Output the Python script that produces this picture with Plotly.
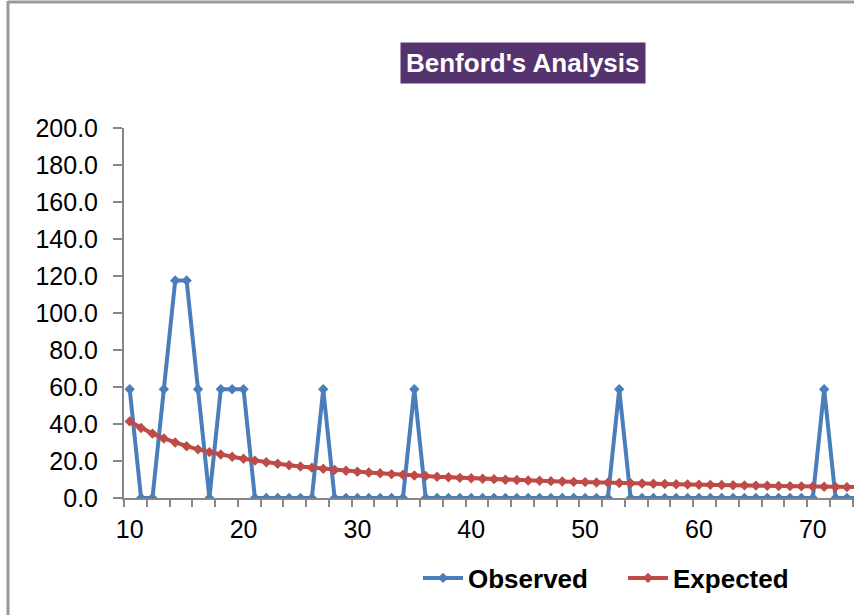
import plotly.graph_objects as go

digits = list(range(10, 76))
observed = [58.8, 0, 0, 58.8, 117.6, 117.6, 58.8, 0, 58.8, 58.8, 58.8,   # 10-20
            0, 0, 0, 0, 0, 0, 58.8, 0, 0, 0,                              # 21-30
            0, 0, 0, 0, 58.8, 0, 0, 0, 0, 0,                              # 31-40
            0, 0, 0, 0, 0, 0, 0, 0, 0, 0,                                 # 41-50
            0, 0, 58.8, 0, 0, 0, 0, 0, 0, 0,                              # 51-60
            0, 0, 0, 0, 0, 0, 0, 0, 0, 0,                                 # 61-70
            58.8, 0, 0, 0, 0]                                             # 71-75
expected = [41.4, 37.8, 34.8, 32.2, 30.0, 28.0, 26.3, 24.8, 23.5, 22.3, 21.2,  # 10-20
            20.2, 19.3, 18.5, 17.7, 17.0, 16.4, 15.8, 15.2, 14.7, 14.2,        # 21-30
            13.8, 13.4, 12.9, 12.6, 12.2, 11.9, 11.5, 11.2, 10.9, 10.7,        # 31-40
            10.4, 10.2, 9.9, 9.7, 9.5, 9.3, 9.1, 8.9, 8.7, 8.6,                # 41-50
            8.4, 8.3, 8.1, 8.0, 7.8, 7.7, 7.6, 7.4, 7.3, 7.2,                  # 51-60
            7.1, 7.0, 6.9, 6.8, 6.7, 6.6, 6.5, 6.4, 6.3, 6.2,                  # 61-70
            6.1, 6.0, 5.9, 5.8, 5.8]                                           # 71-75
x_labels = [10, 20, 30, 40, 50, 60, 70]
y_ticks = [0, 20, 40, 60, 80, 100, 120, 140, 160, 180, 200]

FONT = "Arial, 'Liberation Sans', sans-serif"
BLUE = "#4A7EBB"
RED = "#BE4B48"
AXIS = "#868686"

fig = go.Figure()
fig.add_trace(go.Scatter(x=digits, y=observed, name="Observed", mode="lines+markers",
                         line=dict(color=BLUE, width=4),
                         marker=dict(symbol="diamond", size=8, color=BLUE),
                         cliponaxis=True))
fig.add_trace(go.Scatter(x=digits, y=expected, name="Expected", mode="lines+markers",
                         line=dict(color=RED, width=4),
                         marker=dict(symbol="diamond", size=8, color=RED),
                         cliponaxis=True))

L, T, B = 124, 128, 117
W, H = 854, 615
pw, ph = W - L, H - T - B

def px(x):
    return (x - L) / pw

def py(y):
    return (H - B - y) / ph

fig.update_layout(
    width=W, height=H,
    margin=dict(l=L, r=0, t=T, b=B, pad=0),
    paper_bgcolor="white", plot_bgcolor="white",
    font=dict(family=FONT, size=25, color="black"),
    showlegend=True,
    legend=dict(orientation="h", x=px(418), xanchor="left", y=py(578), yanchor="middle",
                font=dict(family=FONT, size=26, color="black", weight="bold"),
                itemwidth=40, entrywidth=150, tracegroupgap=0, bgcolor="rgba(0,0,0,0)"),
    xaxis=dict(range=[9.5, 73.62], tickmode="array", tickvals=x_labels,
               ticktext=[str(v) for v in x_labels],
               ticks="outside", ticklen=8, tickcolor="rgba(0,0,0,0)",
               showgrid=False, zeroline=False, showline=True, linecolor=AXIS, linewidth=2,
               tickfont=dict(family=FONT, size=25, color="black"),
               minor=dict(tick0=9.5, dtick=2, ticks="outside", ticklen=7,
                          tickcolor=AXIS, tickwidth=2, showgrid=False)),
    yaxis=dict(range=[0, 200], tickmode="array", tickvals=y_ticks,
               ticktext=[f"{v:.1f}" for v in y_ticks],
               ticks="outside", ticklen=9, tickcolor=AXIS, tickwidth=2,
               showgrid=False, zeroline=False, showline=True, linecolor=AXIS, linewidth=2,
               ticklabelstandoff=10,
               tickfont=dict(family=FONT, size=25, color="black")),
)

# chart outer border (left and top visible)
fig.add_shape(type="line", xref="paper", yref="paper", x0=px(8), x1=px(8), y0=py(1), y1=py(620),
              line=dict(color="#9A9A9A", width=3))
fig.add_shape(type="line", xref="paper", yref="paper", x0=px(8), x1=px(860), y0=py(2), y1=py(2),
              line=dict(color="#9A9A9A", width=3))

fig.add_annotation(text="<b>Benford's Analysis</b>", xref="paper", yref="paper",
                   x=px(523), y=py(63), xanchor="center", yanchor="middle",
                   showarrow=False, bgcolor="#55336F", borderpad=5,
                   font=dict(family=FONT, size=26, color="white"))

fig.write_html("out.html", config={"displayModeBar": False},
               post_script="document.body.style.margin='0px';document.body.style.overflow='hidden';")
